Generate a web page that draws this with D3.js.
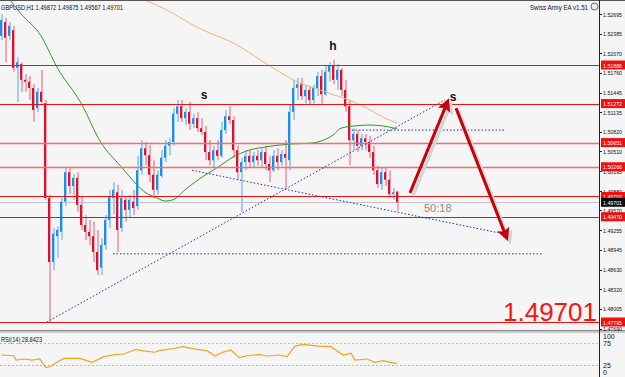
<!DOCTYPE html>
<html>
<head>
<meta charset="utf-8">
<script src="https://cdn.jsdelivr.net/npm/d3@7"></script>
<style>
body { margin: 0; background: #f5f5f5; }
svg { display: block; }
text { font-family: "Liberation Sans", Arial, sans-serif; }
</style>
</head>
<body>
<div id="chart"></div>
<script>
// layout constants - tweak here, not down in the drawing code
var width = 625,
    height = 377,
    axisX = 599,
    mainTop = 1,
    mainBottom = 330,
    rsiTop = 333,
    labelX = 603;

// GBPUSD H1 candles (bar 0 = leftmost visible)
var opens = [
  1.5235,1.5257,1.5235,1.5244,1.5184,1.5190,1.5165,1.5162,1.5152,1.5120,
  1.5146,1.5128,1.4977,1.4875,1.4916,1.4923,1.4971,1.5018,1.4996,1.5009,
  1.4966,1.4934,1.4923,1.4916,1.4891,1.4866,1.4902,1.4942,1.4977,1.4986,
  1.4929,1.4974,1.4958,1.4971,1.4964,1.5021,1.5056,1.5045,1.5014,1.4990,
  1.5012,1.5041,1.5060,1.5066,1.5111,1.5123,1.5104,1.5114,1.5095,1.5104,
  1.5088,1.5082,1.5050,1.5037,1.5053,1.5044,1.5085,1.5107,1.5101,1.5053,
  1.5018,1.5034,1.5044,1.5034,1.5044,1.5037,1.5050,1.5031,1.5021,1.5044,
  1.5034,1.5047,1.5037,1.5114,1.5152,1.5158,1.5139,1.5149,1.5133,1.5152,
  1.5171,1.5142,1.5178,1.5187,1.5165,1.5181,1.5149,1.5123,1.5069,1.5079,
  1.5060,1.5072,1.5066,1.5050,1.5021,1.4999,1.5018,1.5006,1.4983,1.49872
];
var highs = [
  1.5270,1.5264,1.5257,1.5251,1.5201,1.5193,1.5174,1.5171,1.5158,1.5152,
  1.5181,1.5133,1.4982,1.4929,1.4932,1.4977,1.5025,1.5025,1.5015,1.5018,
  1.4980,1.4950,1.4942,1.4939,1.4926,1.4913,1.4950,1.4990,1.5002,1.4998,
  1.4990,1.4980,1.4982,1.4990,1.5044,1.5069,1.5066,1.5061,1.5037,1.5021,
  1.5053,1.5069,1.5072,1.5120,1.5133,1.5133,1.5120,1.5130,1.5111,1.5114,
  1.5104,1.5092,1.5069,1.5060,1.5069,1.5098,1.5117,1.5123,1.5107,1.5061,
  1.5041,1.5053,1.5053,1.5050,1.5053,1.5056,1.5060,1.5044,1.5053,1.5056,
  1.5053,1.5069,1.5125,1.5165,1.5168,1.5168,1.5157,1.5155,1.5157,1.5178,
  1.5181,1.5187,1.5193,1.5197,1.5190,1.5184,1.5165,1.5133,1.5088,1.5085,
  1.5079,1.5079,1.5076,1.5060,1.5028,1.5025,1.5025,1.5021,1.4993,1.49875
];
var lows = [
  1.5228,1.5193,1.5228,1.5178,1.5130,1.5146,1.5146,1.5133,1.5098,1.5114,
  1.5127,1.4974,1.47795,1.4862,1.4881,1.4910,1.4964,1.4983,1.4974,1.4955,
  1.4926,1.4910,1.4902,1.4875,1.4854,1.4854,1.4894,1.4929,1.4951,1.4891,
  1.4923,1.4939,1.4945,1.4950,1.4958,1.5014,1.5029,1.5002,1.4977,1.4982,
  1.5009,1.5034,1.5045,1.5060,1.5098,1.5098,1.5093,1.5085,1.5088,1.5082,
  1.5077,1.5037,1.5029,1.5025,1.5037,1.5041,1.5079,1.5095,1.5041,1.5006,
  1.4955,1.5021,1.5025,1.5025,1.5028,1.5025,1.5021,1.5002,1.5018,1.5021,
  1.5028,1.4993,1.5021,1.5101,1.5133,1.5133,1.5127,1.5125,1.5127,1.5139,
  1.5127,1.5139,1.5162,1.5158,1.5149,1.5139,1.5114,1.5029,1.5053,1.5050,
  1.5053,1.5053,1.5041,1.5014,1.4993,1.4990,1.4996,1.4977,1.4974,1.49567
];
var closes = [
  1.5260,1.5232,1.5251,1.5184,1.5193,1.5165,1.5162,1.5152,1.5117,1.5146,
  1.5130,1.4977,1.4875,1.4920,1.4926,1.4971,1.5018,1.4996,1.5009,1.4966,
  1.4934,1.4923,1.4916,1.4891,1.4862,1.4902,1.4942,1.4980,1.4990,1.4926,
  1.4977,1.4958,1.4974,1.4961,1.5021,1.5056,1.5045,1.5014,1.4990,1.5014,
  1.5041,1.5060,1.5066,1.5111,1.5123,1.5104,1.5114,1.5095,1.5104,1.5088,
  1.5082,1.5050,1.5037,1.5053,1.5044,1.5085,1.5107,1.5101,1.5053,1.5018,
  1.5034,1.5044,1.5034,1.5044,1.5037,1.5050,1.5031,1.5021,1.5044,1.5034,
  1.5047,1.5041,1.5114,1.5152,1.5158,1.5139,1.5149,1.5133,1.5152,1.5171,
  1.5142,1.5178,1.5187,1.5165,1.5181,1.5149,1.5123,1.5069,1.5079,1.5060,
  1.5072,1.5066,1.5050,1.5021,1.4999,1.5018,1.5006,1.4983,1.4986,1.49701
];

// moving averages (bar index, price)
var maFastBars   = [0, 5, 10, 14, 20, 25, 30, 34, 36, 39, 41, 43, 46, 50, 54, 58, 62, 66, 73, 77, 83, 85, 89, 92, 95, 99];
var maFastValues = [1.5311,1.5270,1.5235,1.5185,1.5128,1.5065,1.5027,1.4998,1.4986,1.4977,1.4972,1.4974,1.4990,
                    1.5009,1.5025,1.5042,1.5053,1.5058,1.5063,1.5064,1.5077,1.5088,1.5092,1.5093,1.5092,1.5087];
var maSlowBars   = [30, 36, 43, 48, 52, 58, 66, 74, 81, 90, 96, 99];
var maSlowValues = [1.5308,1.5292,1.5271,1.5252,1.5240,1.5224,1.5192,1.5162,1.5146,1.5125,1.5104,1.5096];

// RSI(14), sampled off the lower panel
var rsiBars = [0,3.25,3.75,5.75,7.75,9.75,10.25,11.25,12.25,13.75,15.75,19.75,22.75,25.75,28.75,30.75,33.75,35.5,
               38.5,39.5,43.5,45.5,48.5,51.5,53.5,55.5,57.5,59.5,61.5,64.5,66.5,69.5,71.5,73.5,75.5,79.5,82.5,
               85.5,87.5,88.5,91.5,93.5,95.5,97.5,99];
var rsiValues = [47.7,46,36,38.6,36,38.6,31,18.9,21,30,40,40,31,44,49,50,60.7,57,
                 54,57.5,63,66.6,61,57.5,45.5,54,59,41.6,46,49,45.5,47.7,44,68,72,68,66.6,
                 47.7,51.6,36,38.6,31,34.8,31,28.8423];
var rsiLevels = [75, 25];
var rsiTicks = [100, 75, 25, 0];

// horizontal levels and the price axis
var levelPrices = [1.51886, 1.51272, 1.50651, 1.50266, 1.49793, 1.49470, 1.47795];
var bidPrice = 1.49701;
var priceTicks = [1.52695,1.52385,1.52070,1.51760,1.51445,1.51135,1.50820,1.50510,1.50195,
                  1.49880,1.49570,1.49255,1.48945,1.48630,1.48320,1.48005,1.47690];

// drawn objects: [bar0, price0, bar1, price1]
var trendLines = [
  [11.5, 1.47795, 111, 1.5133],
  [47.75, 1.5021, 124.75, 1.4921],
  [87.75, 1.5085, 126, 1.5085],
  [28, 1.4888, 135.5, 1.4888]
];
var arrows = [
  [102.25, 1.4985, 111.5, 1.5128],
  [113.75, 1.5120, 126.25, 1.4916]
];
var patternLabels = ["s", "h", "s"];
var patternBars = [50.75, 83, 113];
var patternPrices = [1.5134, 1.5212, 1.5131];

var headerText = "GBPUSD,H1  1.49872 1.49875 1.49567 1.49701";
var eaText = "Swiss Army EA v1.51";
var timerText = "50:18";

/* scales */
var x = d3.scaleLinear().domain([0, 99]).range([1, 397]);
var y = d3.scaleLinear().domain([1.47795, 1.51886]).range([322, 65]);
var yr = d3.scaleLinear().domain([0, 100]).range([376, 332]);

var svg = d3.select("#chart")
  .append("svg")
    .attr("width", width)
    .attr("height", height);

var defs = svg.append("defs");
defs.append("clipPath").attr("id", "mainclip")
  .append("rect").attr("x", 0).attr("y", mainTop).attr("width", axisX).attr("height", mainBottom - mainTop);
defs.append("clipPath").attr("id", "rsiclip")
  .append("rect").attr("x", 0).attr("y", rsiTop).attr("width", axisX).attr("height", height - rsiTop);
defs.append("marker")
    .attr("id", "head")
    .attr("viewBox", "0 0 10 10")
    .attr("refX", 6).attr("refY", 5)
    .attr("markerWidth", 13).attr("markerHeight", 13)
    .attr("markerUnits", "userSpaceOnUse")
    .attr("orient", "auto")
  .append("path").attr("d", "M0,0 L10,5 L0,10 L2,5 Z").attr("fill", "#c8000a");
defs.append("marker")
    .attr("id", "headshadow")
    .attr("viewBox", "0 0 10 10")
    .attr("refX", 6).attr("refY", 5)
    .attr("markerWidth", 13).attr("markerHeight", 13)
    .attr("markerUnits", "userSpaceOnUse")
    .attr("orient", "auto")
  .append("path").attr("d", "M0,0 L10,5 L0,10 L2,5 Z").attr("fill", "#cfcfcf");

// background and frame
svg.append("rect").attr("width", width).attr("height", height).attr("fill", "#f5f5f5");
svg.append("line").attr("x1", 0).attr("x2", width).attr("y1", 0.5).attr("y2", 0.5).attr("stroke", "#555");
svg.append("rect").attr("x", 0).attr("y", mainBottom).attr("width", width).attr("height", rsiTop - mainBottom)
  .attr("fill", "#c8c8c8");
svg.append("line").attr("x1", 0).attr("x2", width).attr("y1", mainBottom + 0.5).attr("y2", mainBottom + 0.5)
  .attr("stroke", "#8c8c8c");
svg.append("line").attr("x1", axisX + 0.5).attr("x2", axisX + 0.5).attr("y1", 0).attr("y2", height)
  .attr("stroke", "#222");

var main = svg.append("g").attr("clip-path", "url(#mainclip)");

// bid line
main.append("line")
  .attr("x1", 0).attr("x2", axisX)
  .attr("y1", Math.round(y(bidPrice)) + 0.5).attr("y2", Math.round(y(bidPrice)) + 0.5)
  .attr("stroke", "#c4c4c4");

// candles
var idx = d3.range(opens.length);
var candle = main.selectAll("g.candle")
  .data(idx)
  .enter()
  .append("g").attr("class", "candle");
candle.append("rect")
  .attr("x", function(i) { return x(i); })
  .attr("width", 2)
  .attr("y", function(i) { return y(highs[i]); })
  .attr("height", function(i) { return Math.max(1, y(lows[i]) - y(highs[i])); })
  .attr("fill", function(i) { return closes[i] >= opens[i] ? "#9fcdf3" : "#f2a6b3"; });
candle.append("rect")
  .attr("x", function(i) { return x(i) - 1; })
  .attr("width", 2)
  .attr("y", function(i) { return y(Math.max(opens[i], closes[i])); })
  .attr("height", function(i) { return Math.max(1, Math.abs(y(opens[i]) - y(closes[i]))); })
  .attr("fill", function(i) { return closes[i] >= opens[i] ? "#1e8cf0" : "#e0102a"; });

// moving averages
var maLine = d3.line().curve(d3.curveMonotoneX)
  .x(function(d) { return x(d[0]); })
  .y(function(d) { return y(d[1]); });
main.append("path")
  .datum(d3.zip(maSlowBars, maSlowValues))
  .attr("d", maLine).attr("fill", "none").attr("stroke", "#f4b27a").attr("stroke-width", 1);
main.append("path")
  .datum(d3.zip(maFastBars, maFastValues))
  .attr("d", maLine).attr("fill", "none").attr("stroke", "#2e9a2e").attr("stroke-width", 1);

// horizontal levels
main.selectAll("line.level")
  .data(levelPrices)
  .enter()
  .append("line").attr("class", "level")
  .attr("x1", 0).attr("x2", axisX)
  .attr("y1", function(d) { return Math.round(y(d)) + 0.5; })
  .attr("y2", function(d) { return Math.round(y(d)) + 0.5; })
  .attr("stroke", function(d, i) { return (i == 2 || i == 3) ? "#f36d6d" : "#f01010"; })
  .attr("stroke-width", function(d, i) { return (i == 2 || i == 3) ? 1.6 : 1.2; });

// trend lines (dotted)
main.selectAll("line.trend")
  .data(trendLines)
  .enter()
  .append("line").attr("class", "trend")
  .attr("x1", function(d) { return x(d[0]); })
  .attr("y1", function(d) { return y(d[1]); })
  .attr("x2", function(d) { return x(d[2]); })
  .attr("y2", function(d) { return y(d[3]); })
  .attr("stroke", "#2a2a9a")
  .attr("stroke-width", 1)
  .attr("stroke-dasharray", "1.5,2");

// arrows with a soft shadow
main.selectAll("line.ashadow")
  .data(arrows)
  .enter()
  .append("line").attr("class", "ashadow")
  .attr("x1", function(d) { return x(d[0]) + 3; })
  .attr("y1", function(d) { return y(d[1]) + 3; })
  .attr("x2", function(d) { return x(d[2]) + 3; })
  .attr("y2", function(d) { return y(d[3]) + 3; })
  .attr("stroke", "#d4d4d4").attr("stroke-width", 3)
  .attr("marker-end", "url(#headshadow)");
main.selectAll("line.arrow")
  .data(arrows)
  .enter()
  .append("line").attr("class", "arrow")
  .attr("x1", function(d) { return x(d[0]); })
  .attr("y1", function(d) { return y(d[1]); })
  .attr("x2", function(d) { return x(d[2]); })
  .attr("y2", function(d) { return y(d[3]); })
  .attr("stroke", "#c8000a").attr("stroke-width", 3)
  .attr("marker-end", "url(#head)");

// s / h / s labels
main.selectAll("text.pattern")
  .data(patternLabels)
  .enter()
  .append("text").attr("class", "pattern")
  .attr("x", function(d, i) { return x(patternBars[i]); })
  .attr("y", function(d, i) { return y(patternPrices[i]); })
  .attr("text-anchor", "middle")
  .attr("font-size", "12px")
  .attr("font-weight", "bold")
  .attr("fill", "#111")
  .text(function(d) { return d; });

main.append("text")
  .attr("x", 424).attr("y", 212)
  .attr("font-size", "11px").attr("fill", "#8a8a8a")
  .attr("font-family", "DejaVu Sans, sans-serif")
  .text(timerText);

// big last price
main.append("text")
  .attr("x", 597).attr("y", 321)
  .attr("text-anchor", "end")
  .attr("font-size", "26px")
  .attr("fill", "#ff1010")
  .text(bidPrice.toFixed(5));

// headers
svg.append("text").attr("x", 1).attr("y", 10)
  .attr("font-size", "7.5px").attr("fill", "#111")
  .attr("textLength", 122).attr("lengthAdjust", "spacingAndGlyphs")
  .text(headerText);
svg.append("text").attr("x", 530).attr("y", 10)
  .attr("font-size", "7.5px").attr("fill", "#111")
  .attr("textLength", 58).attr("lengthAdjust", "spacingAndGlyphs")
  .text(eaText);
svg.append("circle").attr("cx", 594.5).attr("cy", 6.5).attr("r", 3.5)
  .attr("fill", "#eee").attr("stroke", "#666");

/* price axis */
var axis = svg.append("g");
axis.selectAll("line.tick")
  .data(priceTicks)
  .enter()
  .append("line").attr("class", "tick")
  .attr("x1", axisX).attr("x2", axisX + 3)
  .attr("y1", function(d) { return Math.round(y(d)) + 0.5; })
  .attr("y2", function(d) { return Math.round(y(d)) + 0.5; })
  .attr("stroke", "#222");
axis.selectAll("text.tick")
  .data(priceTicks)
  .enter()
  .append("text").attr("class", "tick")
  .attr("x", labelX)
  .attr("y", function(d) { return y(d) + 2.5; })
  .attr("font-size", "6px").attr("fill", "#111")
  .attr("textLength", 19).attr("lengthAdjust", "spacingAndGlyphs")
  .text(function(d) { return d.toFixed(5); });

var tags = levelPrices.map(function(p) { return { price: p, bg: "#f01010" }; });
tags.push({ price: bidPrice, bg: "#0a0a0a" });
var tag = axis.selectAll("g.tag")
  .data(tags)
  .enter()
  .append("g").attr("class", "tag");
tag.append("rect")
  .attr("x", axisX + 2).attr("width", 24)
  .attr("y", function(d) { return y(d.price) - 4.5; })
  .attr("height", 9)
  .attr("fill", function(d) { return d.bg; });
tag.append("text")
  .attr("x", labelX)
  .attr("y", function(d) { return y(d.price) + 2.5; })
  .attr("font-size", "6px").attr("fill", "#fff")
  .attr("textLength", 19).attr("lengthAdjust", "spacingAndGlyphs")
  .text(function(d) { return d.price.toFixed(5); });

/* RSI panel */
var rsi = svg.append("g").attr("clip-path", "url(#rsiclip)");
rsi.selectAll("line.rlevel")
  .data(rsiLevels)
  .enter()
  .append("line").attr("class", "rlevel")
  .attr("x1", 0).attr("x2", axisX)
  .attr("y1", function(d) { return Math.round(yr(d)) + 0.5; })
  .attr("y2", function(d) { return Math.round(yr(d)) + 0.5; })
  .attr("stroke", "#b8b8b8").attr("stroke-dasharray", "2,2");
rsi.append("path")
  .datum(d3.zip(rsiBars, rsiValues))
  .attr("d", d3.line()
    .x(function(d) { return x(d[0]); })
    .y(function(d) { return yr(d[1]); }))
  .attr("fill", "none").attr("stroke", "#f5a51c").attr("stroke-width", 1.2);
svg.append("text").attr("x", 1).attr("y", 342)
  .attr("font-size", "7.5px").attr("fill", "#111")
  .attr("textLength", 41).attr("lengthAdjust", "spacingAndGlyphs")
  .text("RSI(14) " + rsiValues[rsiValues.length - 1].toFixed(4));
svg.selectAll("text.rtick")
  .data(rsiTicks)
  .enter()
  .append("text").attr("class", "rtick")
  .attr("x", labelX)
  .attr("y", function(d) {
      var p = yr(d);
      if (d == 100) p += 4;
      if (d == 0) p -= 4;
      return p + 2.5;
  })
  .attr("font-size", "7px").attr("fill", "#111")
  .text(function(d) { return d; });
</script>
</body>
</html>
